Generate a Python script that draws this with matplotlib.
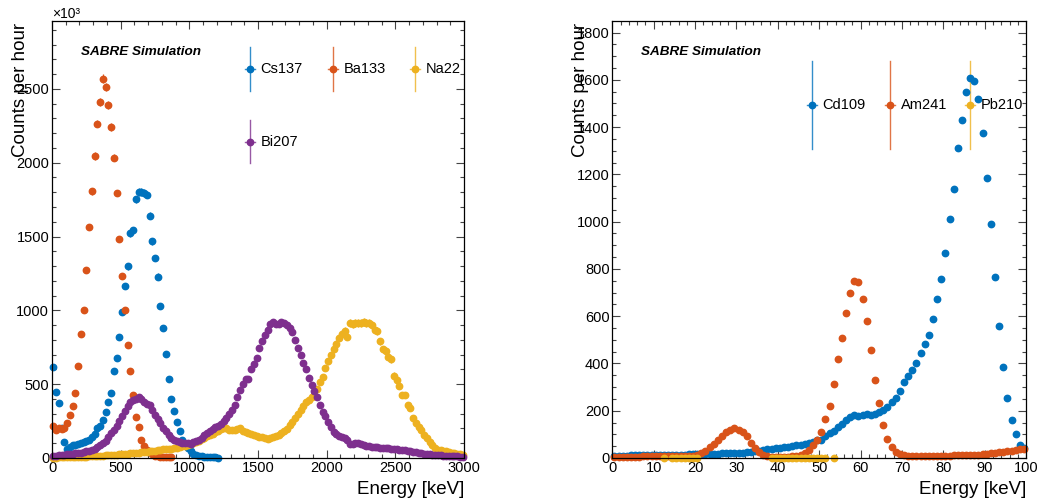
import numpy as np
import matplotlib
matplotlib.use('Agg')
from matplotlib import pyplot as plt
from matplotlib.ticker import MultipleLocator

plt.rcParams['font.family'] = ['Liberation Sans', 'DejaVu Sans']

nan = np.nan

# ---- left panel: 20 keV bins starting at 0 keV ----
bin_w_left = 20
cs137 = [615, 450, 375, 200, 110, 60, 75, 85, 90, 95,
         100, 105, 115, 125, 140, 160, 205, 220, 260, 314,
         382, 443, 592, 678, 818, 992, 1168, 1297, 1523, 1541,
         1751, 1803, 1800, 1795, 1783, 1641, 1467, 1354, 1229, 1028,
         879, 705, 536, 402, 321, 242, 180, 122, 95, 70,
         45, 30, 20, 15, 12, 10, 8, 6, 5, 4, 3]
ba133 = [220, 190, 200, 195, 200, 240, 290, 350, 440, 625,
         840, 1000, 1270, 1565, 1805, 2045, 2265, 2410, 2570, 2515,
         2390, 2240, 2035, 1795, 1485, 1230, 1000, 765, 590, 425,
         280, 208, 120, 80, 55, 38, 25, 15, 12, 10,
         8, 8, 8, 7]
na22 = [3, 3, 4, 4, 5, 5, 5, 6, 6, 7,
        8, 9, 10, 11, 12, 13, 14, 15, 16, 18,
        19, 20, 21, 22, 24, 25, 27, 29, 31, 33,
        35, 36, 38, 40, 42, 45, 48, 50, 53, 56,
        58, 60, 62, 64, 67, 70, 74, 79, 84, 88,
        93, 100, 108, 117, 127, 137, 146, 155, 165, 175,
        186, 196, 200, 201, 190, 188, 188, 195, 204, 186,
        176, 168, 162, 156, 150, 145, 140, 136, 128, 136,
        142, 150, 158, 170, 182, 196, 222, 245, 272, 295,
        322, 350, 378, 393, 410, 425, 470, 515, 548, 610,
        655, 695, 735, 775, 815, 840, 862, 822, 912, 908,
        916, 912, 915, 918, 916, 912, 904, 870, 858, 790,
        735, 727, 684, 668, 558, 530, 490, 428, 426, 362,
        338, 272, 236, 212, 188, 158, 134, 110, 90, 70,
        56, 52, 48, 44, 40, 36, 32, 28, 24, 20]
bi207 = [14, 16, 19, 21, 23, 25, 27, 29, 31, 34,
         37, 41, 45, 50, 55, 64, 74, 88, 100, 115,
         140, 168, 192, 220, 248, 283, 318, 350, 380, 392,
         402, 410, 400, 382, 368, 358, 326, 292, 262, 236,
         206, 180, 158, 135, 122, 116, 107, 101, 103, 104,
         97, 105, 115, 124, 138, 153, 168, 182, 195, 207,
         217, 231, 248, 272, 298, 326, 362, 415, 462, 500,
         533, 535, 600, 638, 680, 745, 790, 830, 870, 905,
         918, 910, 908, 924, 912, 898, 882, 850, 798, 745,
         700, 645, 600, 545, 495, 455, 410, 362, 312, 285,
         246, 208, 178, 165, 152, 142, 134, 122, 96, 95,
         100, 104, 96, 88, 82, 79, 77, 74, 72, 70,
         68, 66, 65, 63, 61, 59, 57, 54, 51, 48,
         45, 42, 39, 36, 33, 30, 27, 24, 22, 20,
         18, 17, 16, 15, 14, 13, 12, 11, 10, 9]

# ---- right panel: 1 keV bins starting at 0 keV ----
bin_w_right = 1
cd109 = [8, 9, 10, 10, 11, 11, 12, 12, 12, 13,
         13, 13, 13, 14, 14, 14, 14, 14, 15, 15,
         16, 16, 17, 17, 18, 18, 19, 19, 20, 21,
         22, 23, 24, 26, 28, 30, 33, 36, 39, 42,
         44, 46, 48, 50, 53, 56, 60, 64, 69, 74,
         76, 93, 105, 116, 133, 144, 161, 172, 182, 178,
         181, 186, 181, 185, 193, 203, 217, 238, 253, 285,
         322, 347, 373, 403, 443, 481, 521, 587, 673, 758,
         869, 1013, 1139, 1311, 1431, 1548, 1608, 1597, 1519, 1377,
         1184, 991, 765, 559, 387, 255, 161, 102, 55, 41]
am241 = [3, 4, 4, 5, 5, 6, 6, 7, 7, 8,
         8, 8, 7, 7, 7, 7, 7, 8, 8, 9,
         13, 22, 31, 45, 59, 76, 95, 109, 120, 125,
         120, 112, 92, 64, 41, 24, 13, 7, 5, 4,
         4, 5, 6, 8, 10, 14, 21, 34, 55, 76,
         112, 164, 221, 312, 419, 508, 612, 700, 749, 744,
         673, 581, 457, 329, 231, 140, 79, 48, 27, 17,
         11, 9, 9, 9, 9, 10, 10, 10, 10, 10,
         10, 10, 11, 11, 11, 12, 12, 13, 14, 16,
         18, 20, 22, 24, 26, 28, 30, 33, 36, 38]
pb210 = [nan] * 12 + [1, nan, 1, 1, 1, 1, 1, 1, 1] + [nan] * 17 + \
        [1] * 14 + [nan, 1] + [nan] * 46

left_series = [('Cs137', cs137, '#0072BD', 0.6),
               ('Ba133', ba133, '#D95319', 0.55),
               ('Na22', na22, '#EDB120', 0.9),
               ('Bi207', bi207, '#7E2F8E', 0.35)]
right_series = [('Cd109', cd109, '#0072BD', 0.2),
                ('Am241', am241, '#D95319', 0.2),
                ('Pb210', pb210, '#EDB120', 0.2)]

fig = plt.figure(figsize=(10.38, 5.04), dpi=100)
ax1 = fig.add_axes([0.0501, 0.0913, 0.3969, 0.8671])
ax2 = fig.add_axes([0.5899, 0.0913, 0.3986, 0.8671])


def draw_points(ax, series, bin_w):
    for name, vals, col, k in series:
        y = np.array(vals, dtype=float)
        x = bin_w / 2 + bin_w * np.arange(len(y))
        err = k * np.sqrt(np.nan_to_num(y))
        eb = ax.errorbar(x, y, yerr=err, xerr=bin_w / 2, fmt='o', ms=4.6,
                         color=col, mec=col, elinewidth=0.9, capsize=0)
        for art in eb.get_children():
            art.set_clip_on(False)


def draw_legend(ax, entries, xs, ys, half_h):
    for (name, vals, col, k), lx, ly in zip(entries, xs, ys):
        tr = ax.transAxes
        ax.plot([lx, lx], [ly - half_h, ly + half_h], color=col, lw=1,
                alpha=0.8, transform=tr, clip_on=False)
        ax.plot([lx - 0.012, lx + 0.012], [ly, ly], color=col, lw=1,
                alpha=0.8, transform=tr, clip_on=False)
        ax.plot([lx], [ly], 'o', ms=4.6, color=col, transform=tr, clip_on=False)
        ax.text(lx + 0.026, ly, name, transform=tr, fontsize=10.5,
                ha='left', va='center')


def style_axes(ax, xmax, ymax, xmaj, xmin, ymaj, ymin):
    ax.set_xlim(0, xmax)
    ax.set_ylim(0, ymax)
    ax.xaxis.set_major_locator(MultipleLocator(xmaj))
    ax.xaxis.set_minor_locator(MultipleLocator(xmin))
    ax.yaxis.set_major_locator(MultipleLocator(ymaj))
    ax.yaxis.set_minor_locator(MultipleLocator(ymin))
    ax.tick_params(which='both', direction='in', top=True, right=True,
                   color='#444444', width=0.8, labelsize=10.5)
    ax.tick_params(which='major', length=6)
    ax.tick_params(which='minor', length=3)
    ax.tick_params(axis='x', pad=2.5)
    ax.tick_params(axis='y', pad=2)
    for sp in ax.spines.values():
        sp.set_linewidth(0.9)
    ax.set_xlabel('Energy [keV]', fontsize=13.5, loc='right')
    ax.xaxis.set_label_coords(1.0, -0.052)
    ax.set_ylabel('Counts per hour', fontsize=13.5, loc='top')
    ax.yaxis.set_label_coords(-0.057, 0.995)
    ax.text(0.07, 0.929, 'SABRE Simulation', transform=ax.transAxes,
            fontsize=9.7, fontweight='bold', fontstyle='italic',
            ha='left', va='center')


draw_points(ax1, left_series, bin_w_left)
style_axes(ax1, 3000, 2960, 500, 100, 500, 100)
ax1.text(0.0, 1.0, '×10³', transform=ax1.transAxes, fontsize=10,
         ha='left', va='bottom')
draw_legend(ax1, left_series, [0.480, 0.681, 0.881, 0.480],
            [0.890, 0.890, 0.890, 0.724], 0.050)

draw_points(ax2, right_series, bin_w_right)
style_axes(ax2, 100, 1849, 10, 2, 200, 50)
draw_legend(ax2, right_series, [0.482, 0.671, 0.865], [0.808, 0.808, 0.808], 0.100)

fig.savefig('out.png', dpi=100)
